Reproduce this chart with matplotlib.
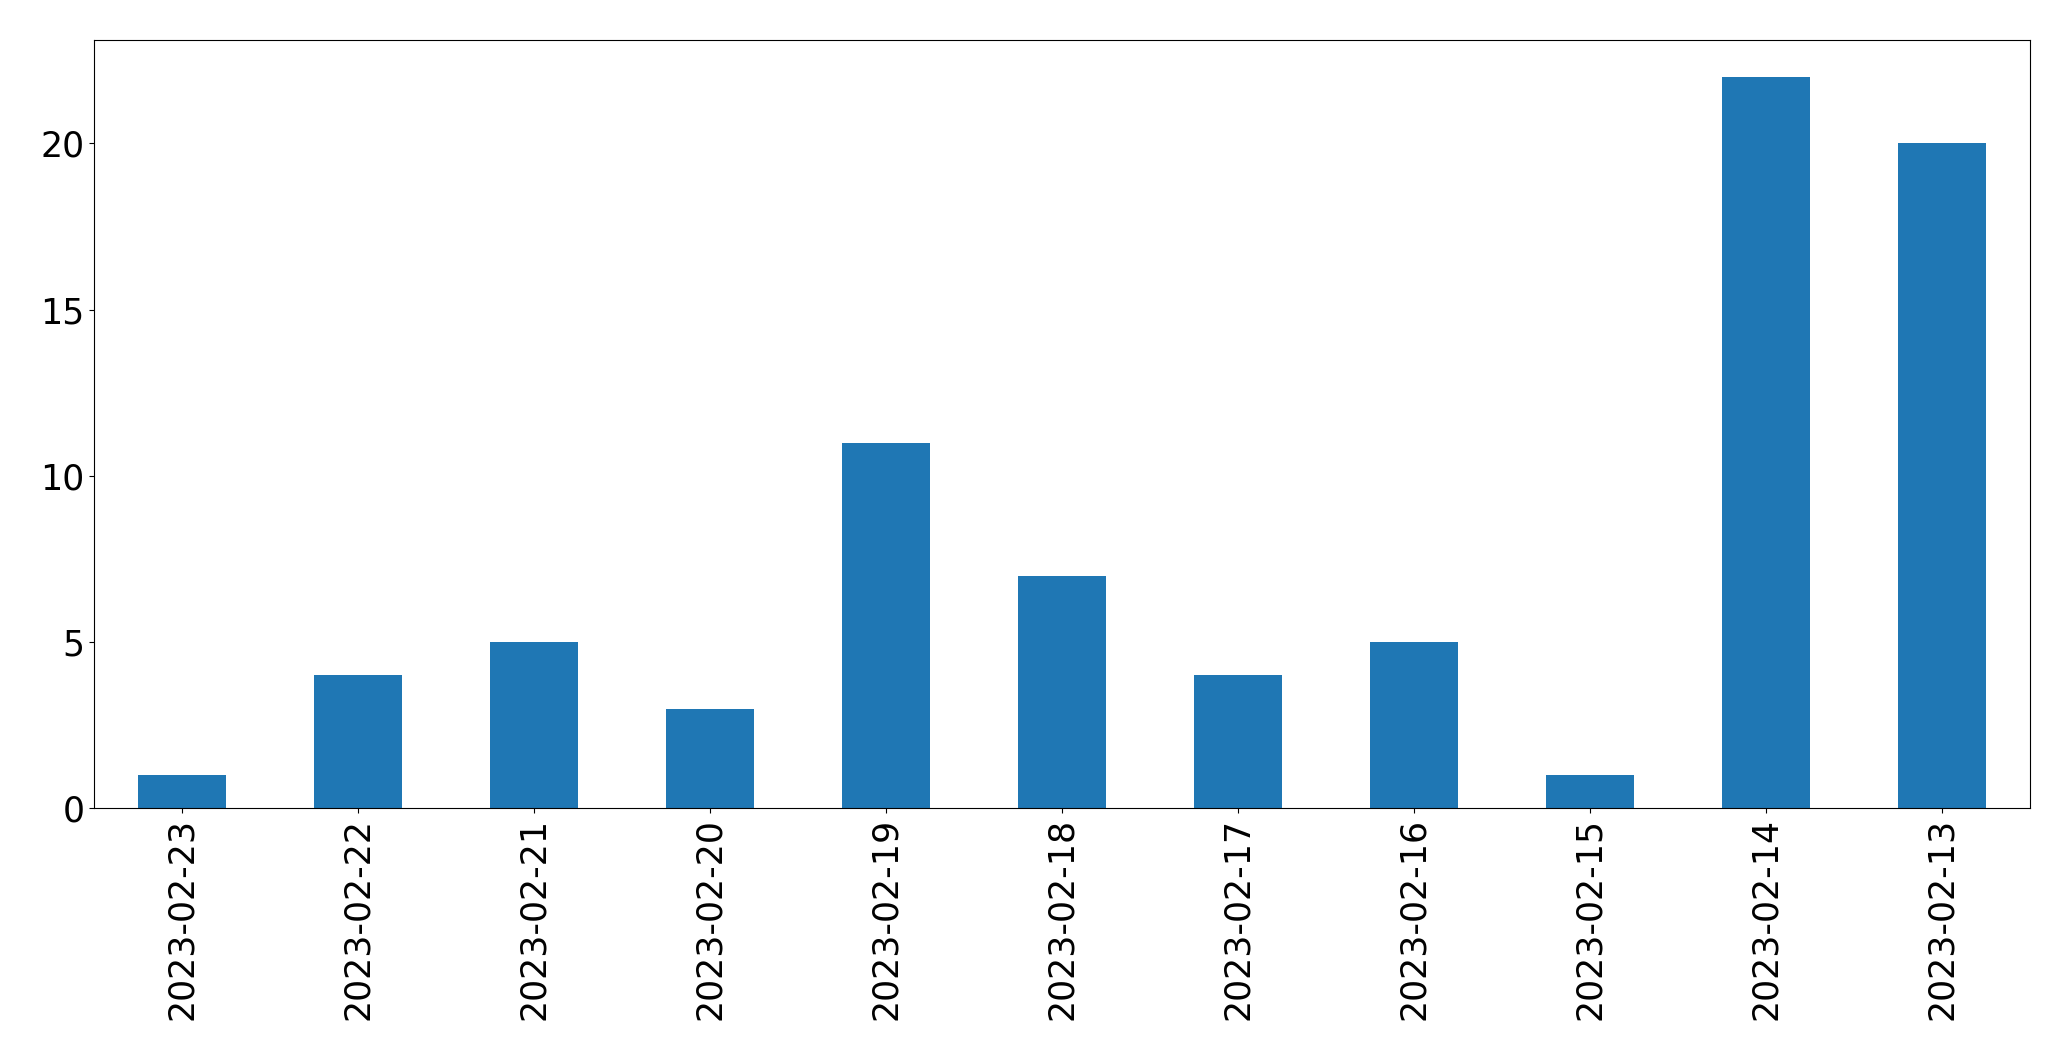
import matplotlib
matplotlib.use('Agg')
import matplotlib.pyplot as plt
import pandas as pd

fechas = ['2023-02-23', '2023-02-22', '2023-02-21', '2023-02-20', '2023-02-19',
          '2023-02-18', '2023-02-17', '2023-02-16', '2023-02-15', '2023-02-14',
          '2023-02-13']
conteos = [1, 4, 5, 3, 11, 7, 4, 5, 1, 22, 20]

serie = pd.Series(conteos, index=fechas)

fig, ax = plt.subplots(figsize=(20.71, 10.61), dpi=100)
serie.plot(kind='bar', ax=ax, color='#1f77b4')
ax.tick_params(axis='both', labelsize=25)
ax.set_xlabel('')
plt.subplots_adjust(left=0.0454, right=0.980, top=0.962, bottom=0.238)

fig.savefig('out.png', dpi=100)
